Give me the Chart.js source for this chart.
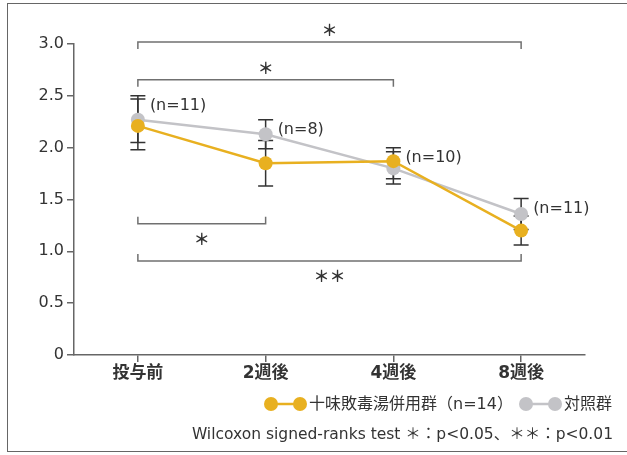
<!DOCTYPE html>
<html>
<head>
<meta charset="utf-8">
<script src="https://cdn.jsdelivr.net/npm/chart.js@4/dist/chart.umd.min.js"></script>
<style>
  html, body { margin: 0; padding: 0; background: #fff; }
  #wrap { position: relative; width: 627px; height: 455px; overflow: hidden; }
  #frame { position: absolute; left: 7px; top: 3px; width: 640px; height: 449px; border: 1.5px solid #666; box-sizing: border-box; }
  canvas { position: absolute; left: 0; top: 0; }
</style>
</head>
<body>
<div id="wrap">
  <div id="frame"></div>
  <canvas id="chart" width="627" height="455"></canvas>
</div>
<script>
// categories and series
const categories = ['投与前', '2週後', '4週後', '8週後'];

const kampoMean = [2.21, 1.85, 1.87, 1.20];
const kampoLow  = [1.98, 1.63, 1.70, 1.06];
const kampoHigh = [2.47, 2.07, 2.00, 1.34];

const controlMean = [2.27, 2.13, 1.80, 1.36];
const controlLow  = [2.05, 1.99, 1.65, 1.21];
const controlHigh = [2.50, 2.27, 1.96, 1.51];

const nLabels = ['(n=11)', '(n=8)', '(n=10)', '(n=11)'];

// significance brackets
const bracketFrom  = [0, 0, 0, 0];
const bracketTo    = [3, 2, 1, 3];
const bracketLevel = [3.02, 2.655, 1.267, 0.906];
const bracketSide  = ['above', 'above', 'below', 'below'];
const bracketMark  = ['＊', '＊', '＊', '＊＊'];

const legendKampo = '十味敗毒湯併用群（n=14）';
const legendControl = '対照群';
const footnote = 'Wilcoxon signed-ranks test ＊：p<0.05、＊＊：p<0.01';

const YELLOW = '#E8B020';
const GRAY = '#C3C3C7';
const INK = '#333';
const FONT = '"DejaVu Sans", "Noto Sans CJK JP", sans-serif';
const CJK = '"Noto Sans CJK JP", sans-serif';

function errBars(ctx, xs, ys, low, high) {
    for (let i = 0; i < low.length; i++) {
        const x = xs.getPixelForValue(i);
        const y1 = ys.getPixelForValue(low[i]);
        const y2 = ys.getPixelForValue(high[i]);
        ctx.beginPath();
        ctx.moveTo(x, y1); ctx.lineTo(x, y2);
        ctx.moveTo(x - 7.5, y1); ctx.lineTo(x + 7.5, y1);
        ctx.moveTo(x - 7.5, y2); ctx.lineTo(x + 7.5, y2);
        ctx.stroke();
    }
}

function legendMark(ctx, x1, x2, y, color) {
    ctx.strokeStyle = color;
    ctx.fillStyle = color;
    ctx.lineWidth = 2.5;
    ctx.beginPath(); ctx.moveTo(x1, y); ctx.lineTo(x2, y); ctx.stroke();
    [x1, x2].forEach(x => {
        ctx.beginPath(); ctx.arc(x, y, 7, 0, Math.PI * 2); ctx.fill();
    });
}

const overlay = {
    id: 'overlay',
    beforeDatasetsDraw(chart) {
        const ctx = chart.ctx;
        const xs = chart.scales.x, ys = chart.scales.y;
        ctx.save();
        ctx.strokeStyle = INK;
        ctx.lineWidth = 1.5;
        errBars(ctx, xs, ys, controlLow, controlHigh);
        errBars(ctx, xs, ys, kampoLow, kampoHigh);
        ctx.restore();
    },
    afterDraw(chart) {
        const ctx = chart.ctx;
        const xs = chart.scales.x, ys = chart.scales.y;
        ctx.save();

        // brackets
        for (let i = 0; i < bracketLevel.length; i++) {
            const xa = xs.getPixelForValue(bracketFrom[i]);
            const xb = xs.getPixelForValue(bracketTo[i]);
            const y = ys.getPixelForValue(bracketLevel[i]);
            const d = bracketSide[i] === 'above' ? 7 : -7;
            ctx.strokeStyle = '#707070';
            ctx.lineWidth = 1.5;
            ctx.beginPath();
            ctx.moveTo(xa, y + d); ctx.lineTo(xa, y); ctx.lineTo(xb, y); ctx.lineTo(xb, y + d);
            ctx.stroke();
            ctx.fillStyle = INK;
            ctx.font = 'bold 16px ' + CJK;
            ctx.textAlign = 'center';
            ctx.textBaseline = 'middle';
            const sy = bracketSide[i] === 'above' ? y - 12 : y + 15;
            ctx.fillText(bracketMark[i], (xa + xb) / 2, sy);
        }

        // n labels beside the top of each error bar
        ctx.font = '16px ' + FONT;
        ctx.textAlign = 'left';
        ctx.textBaseline = 'middle';
        ctx.fillStyle = INK;
        for (let i = 0; i < nLabels.length; i++) {
            const top = Math.max(kampoHigh[i], controlHigh[i]);
            ctx.fillText(nLabels[i], xs.getPixelForValue(i) + 12, ys.getPixelForValue(top) + 10);
        }

        // legend
        legendMark(ctx, 271, 300, 404, YELLOW);
        legendMark(ctx, 526, 555, 404, GRAY);
        ctx.fillStyle = INK;
        ctx.font = '16px ' + FONT;
        ctx.textAlign = 'left';
        ctx.fillText(legendKampo, 309, 405);
        ctx.fillText(legendControl, 564, 405);

        // footnote
        ctx.font = '15.5px ' + FONT;
        ctx.textAlign = 'right';
        ctx.fillText(footnote, 613, 435);
        ctx.restore();
    }
};

new Chart(document.getElementById('chart').getContext('2d'), {
    type: 'line',
    data: {
        labels: categories,
        datasets: [{
            label: legendKampo,
            data: kampoMean,
            borderColor: YELLOW,
            backgroundColor: YELLOW,
            borderWidth: 2.5,
            pointRadius: 7,
            pointBorderWidth: 0,
            tension: 0
        }, {
            label: legendControl,
            data: controlMean,
            borderColor: GRAY,
            backgroundColor: GRAY,
            borderWidth: 2.5,
            pointRadius: 7,
            pointBorderWidth: 0,
            tension: 0
        }]
    },
    options: {
        responsive: false,
        animation: false,
        layout: { padding: { top: 44, right: 42, left: 0, bottom: 0 } },
        plugins: { legend: { display: false }, tooltip: { enabled: false } },
        scales: {
            x: {
                offset: true,
                afterFit: s => { s.height = 100; },
                grid: { drawOnChartArea: false, tickLength: 7, color: '#666', lineWidth: 1.5 },
                border: { color: '#666', width: 1.5 },
                ticks: { color: INK, padding: 1, font: { family: FONT, size: 17, weight: 'bold' } }
            },
            y: {
                min: 0,
                max: 3,
                afterFit: s => { s.width = 74; },
                grid: { drawOnChartArea: false, tickLength: 7, color: '#666', lineWidth: 1.5 },
                border: { color: '#666', width: 1.5 },
                ticks: {
                    stepSize: 0.5,
                    color: INK,
                    padding: 3,
                    font: { family: FONT, size: 16 },
                    callback: v => v === 0 ? '0' : v.toFixed(1)
                }
            }
        }
    },
    plugins: [overlay]
});
</script>
</body>
</html>
